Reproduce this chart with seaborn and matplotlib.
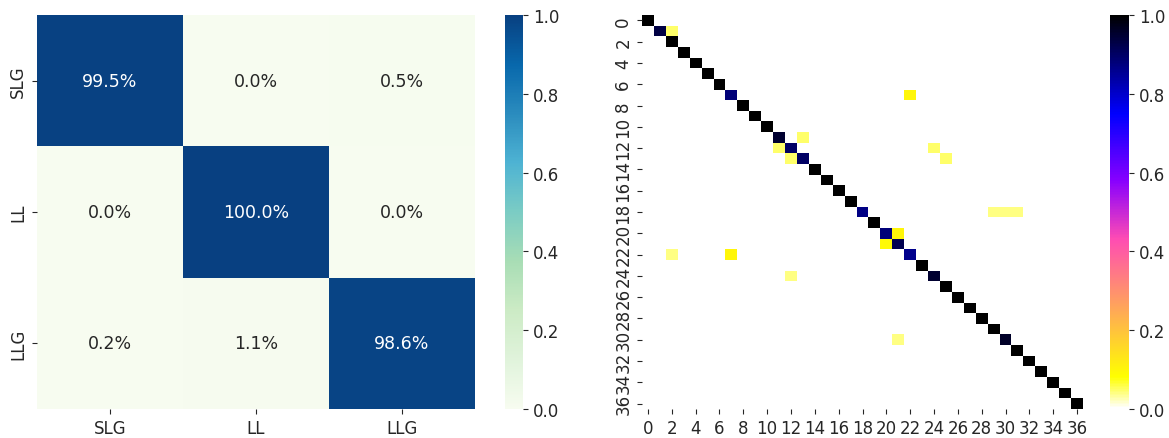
import numpy as np
import matplotlib
matplotlib.use("Agg")
import matplotlib.pyplot as plt
import seaborn as sns

# ---- Left confusion matrix (3 classes) ----
classes = ["SLG", "LL", "LLG"]
row_slg = [0.995, 0.000, 0.005]
row_ll = [0.000, 1.000, 0.000]
row_llg = [0.002, 0.011, 0.986]

# ---- Right confusion matrix (37 classes) ----
n_classes = 37
diag_vals = [1.00, 0.93, 1.00, 1.00, 1.00, 1.00, 1.00, 0.88, 1.00, 1.00,
             1.00, 0.95, 0.90, 0.90, 1.00, 1.00, 1.00, 1.00, 0.87, 1.00,
             0.88, 0.92, 0.86, 1.00, 0.95, 1.00, 1.00, 1.00, 1.00, 1.00,
             0.96, 1.00, 1.00, 1.00, 1.00, 1.00, 1.00]
off_rows = [1, 7, 11, 12, 12, 13, 13, 18, 18, 18, 20, 21, 22, 22, 24, 30]
off_cols = [2, 22, 13, 11, 24, 12, 25, 29, 30, 31, 21, 20, 2, 7, 12, 21]
off_vals = [0.05, 0.10, 0.05, 0.05, 0.05, 0.05, 0.05, 0.04, 0.04, 0.04,
            0.10, 0.09, 0.04, 0.10, 0.04, 0.04]

left_mat = np.array([row_slg, row_ll, row_llg])
right_mat = np.zeros((n_classes, n_classes))
right_mat[np.arange(n_classes), np.arange(n_classes)] = diag_vals
right_mat[off_rows, off_cols] = off_vals

plt.rcParams["font.family"] = ["DejaVu Sans"]
plt.rcParams["text.color"] = "#262626"
plt.rcParams["xtick.color"] = "#262626"
plt.rcParams["ytick.color"] = "#262626"

W, H = 1169, 439
fig = plt.figure(figsize=(W / 100, H / 100), dpi=100)

def box(x0, x1, y0, y1):
    return [x0 / W, (H - y1) / H, (x1 - x0) / W, (y1 - y0) / H]

ax1 = fig.add_axes(box(37, 475, 16, 410))
cax1 = fig.add_axes(box(505, 523, 16, 410))
ax2 = fig.add_axes(box(642, 1083, 16, 410))
cax2 = fig.add_axes(box(1110, 1129, 16, 410))

sns.heatmap(left_mat, ax=ax1, cbar_ax=cax1, cmap="GnBu", vmin=0, vmax=1,
            annot=True, fmt=".1%", annot_kws={"fontsize": 12.5},
            xticklabels=classes, yticklabels=classes)
ax1.tick_params(labelsize=12)
plt.setp(ax1.get_yticklabels(), rotation=90, va="center")
plt.setp(ax1.get_xticklabels(), rotation=0)

sns.heatmap(right_mat, ax=ax2, cbar_ax=cax2, cmap="gnuplot2_r", vmin=0, vmax=1,
            xticklabels=2, yticklabels=2)
ax2.tick_params(labelsize=12)
plt.setp(ax2.get_yticklabels(), rotation=90, va="center")
plt.setp(ax2.get_xticklabels(), rotation=0)

for cax in (cax1, cax2):
    cax.tick_params(labelsize=12)
    cax.set_yticks([0.0, 0.2, 0.4, 0.6, 0.8, 1.0])

fig.savefig("out.png", dpi=100)
